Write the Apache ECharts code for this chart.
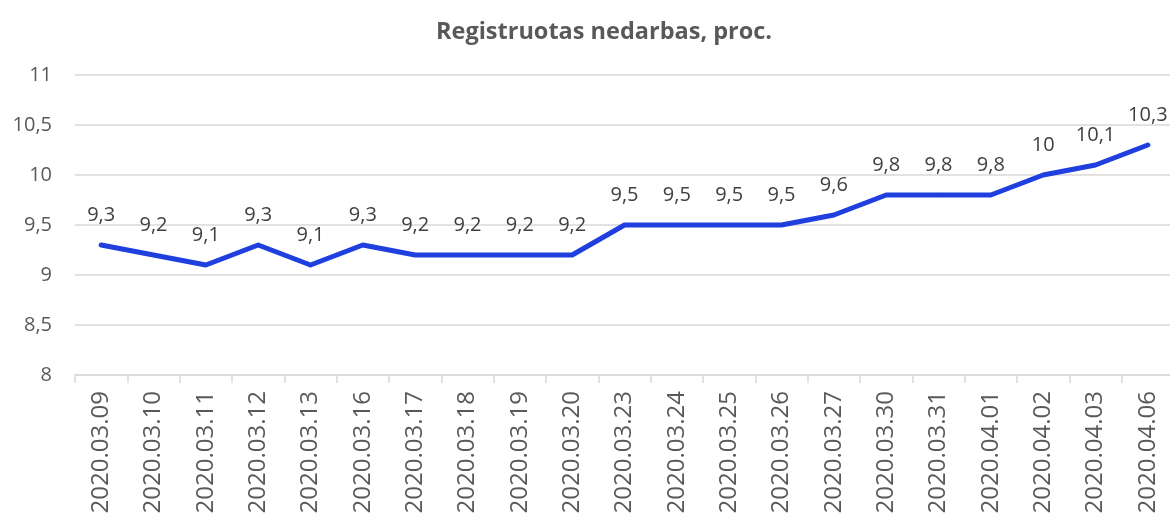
<!DOCTYPE html>
<html>
<head>
<meta charset="utf-8">
<script src="https://cdn.jsdelivr.net/npm/echarts@6/dist/echarts.min.js"></script>
<style>
  html, body { margin: 0; padding: 0; background: #fff; }
  #chart { width: 1170px; height: 513px; }
</style>
</head>
<body>
<div id="chart"></div>
<script>
const TITLE = 'Registruotas nedarbas, proc.';
const DATES = ['2020.03.09', '2020.03.10', '2020.03.11', '2020.03.12', '2020.03.13', '2020.03.16', '2020.03.17',
    '2020.03.18', '2020.03.19', '2020.03.20', '2020.03.23', '2020.03.24', '2020.03.25', '2020.03.26',
    '2020.03.27', '2020.03.30', '2020.03.31', '2020.04.01', '2020.04.02', '2020.04.03', '2020.04.06'];
const VALUES = [9.3, 9.2, 9.1, 9.3, 9.1, 9.3, 9.2, 9.2, 9.2, 9.2, 9.5, 9.5, 9.5, 9.5, 9.6, 9.8, 9.8, 9.8, 10, 10.1, 10.3];
const FONT = '"Open Sans", sans-serif';

const comma = v => String(v).replace('.', ',');

const chart = echarts.init(document.getElementById('chart'), null, { renderer: 'canvas' });
chart.setOption({
    animation: false,
    title: {
        text: TITLE,
        left: 431,
        top: 15,
        textStyle: { fontFamily: FONT, fontSize: 23.5, fontWeight: 'bold', color: '#595959' },
    },
    grid: { left: 75, top: 75, width: 1099, height: 300, outerBoundsMode: 'none', containLabel: false },
    xAxis: {
        type: 'category',
        data: DATES,
        boundaryGap: true,
        axisLine: { lineStyle: { color: '#d9d9d9', width: 1.5 } },
        axisTick: { show: true, length: 8, lineStyle: { color: '#d9d9d9', width: 1.5 } },
        axisLabel: { rotate: 90, interval: 0, margin: 16, fontFamily: FONT, fontSize: 24, color: '#595959' },
    },
    yAxis: {
        type: 'value',
        min: 8,
        max: 11,
        interval: 0.5,
        axisLine: { show: false },
        axisTick: { show: false },
        axisLabel: { margin: 23, fontFamily: FONT, fontSize: 20, color: '#595959', formatter: comma },
        splitLine: { lineStyle: { color: '#d9d9d9', width: 1.5 } },
    },
    series: [{
        type: 'line',
        data: VALUES,
        symbol: 'circle',
        symbolSize: 2,
        showSymbol: true,
        itemStyle: { color: '#1f3fdf' },
        lineStyle: { color: '#1f3fdf', width: 5, cap: 'round', join: 'round' },
        label: {
            show: true,
            position: 'top',
            distance: 19,
            fontFamily: FONT,
            fontSize: 20,
            color: '#404040',
            formatter: p => comma(p.value),
        },
    }],
});
</script>
</body>
</html>
